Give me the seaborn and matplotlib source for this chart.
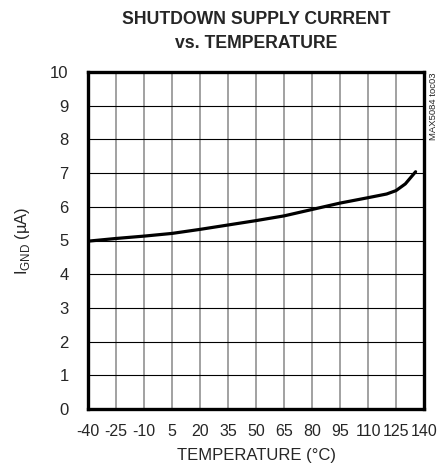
import numpy as np
import pandas as pd
import matplotlib.pyplot as plt
import seaborn as sns

# Values
temperature = [-40, -25, -10, 5, 20, 35, 50, 65, 80, 95, 110, 120, 125, 130, 135.5]
current = [4.98, 5.06, 5.13, 5.21, 5.33, 5.46, 5.59, 5.73, 5.92, 6.11, 6.27, 6.38, 6.48, 6.68, 7.04]
x_ticks = [-40, -25, -10, 5, 20, 35, 50, 65, 80, 95, 110, 125, 140]
y_ticks = [0, 1, 2, 3, 4, 5, 6, 7, 8, 9, 10]

df = pd.DataFrame({'Temperature': temperature, 'Current': current})

sns.set_style('white')
plt.rcParams['font.family'] = ['Liberation Sans', 'DejaVu Sans']
plt.rcParams['mathtext.fontset'] = 'custom'
plt.rcParams['mathtext.rm'] = 'Liberation Sans'

fig = plt.figure(figsize=(4.48, 4.75), dpi=100)
ax = fig.add_axes([88 / 448, 1 - 409 / 475, 336 / 448, 337 / 475])

sns.lineplot(data=df, x='Temperature', y='Current', ax=ax, color='black', linewidth=2.3)

ax.set_xlim(-40, 140)
ax.set_ylim(0, 10)
ax.set_xticks(x_ticks)
ax.set_yticks(y_ticks)
ax.set_xticklabels([str(t) for t in x_ticks], fontsize=11.5)
ax.set_yticklabels([str(t) for t in y_ticks], fontsize=12)
ax.tick_params(axis='x', length=0, pad=11)
ax.tick_params(axis='y', length=0, pad=14)
ax.xaxis.grid(True, color='#888888', linewidth=1.1)
ax.yaxis.grid(True, color='black', linewidth=0.8)
for s in ax.spines.values():
    s.set_color('black')
    s.set_linewidth(2.4)

ax.set_xlabel('TEMPERATURE (°C)', fontsize=12, labelpad=6)
ax.set_ylabel(r'I$_{\mathrm{GND}}$ (µA)', fontsize=12, labelpad=13)
fig.text(256 / 448, 1 - 11 / 475, 'SHUTDOWN SUPPLY CURRENT\nvs. TEMPERATURE', ha='center', va='top',
         fontsize=12.7, fontweight='bold', linespacing=1.55)
fig.text(433 / 448, 1 - 73 / 475, 'MAX5084 toc03', rotation=90, ha='center', va='top', fontsize=6.8)

fig.savefig('out.png', dpi=100)
